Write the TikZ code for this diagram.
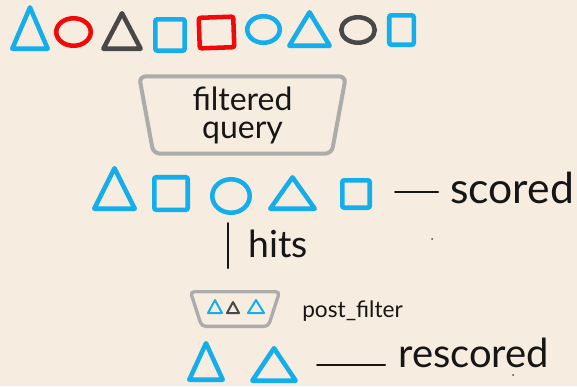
\documentclass[tikz,border=0pt]{standalone}
\usepackage{fontspec}
\setmainfont{Lato}
\usetikzlibrary{shapes.geometric}
\definecolor{FltPaper}{RGB}{246,236,223}
\definecolor{FltBlue}{RGB}{20,174,234}
\definecolor{FltRed}{RGB}{242,8,8}
\definecolor{FltDark}{RGB}{72,72,72}
\definecolor{FltGray}{RGB}{172,172,172}
\definecolor{FltInk}{RGB}{22,22,22}
\tikzset{
  flt/tri/.style={
    isosceles triangle,
    isosceles triangle stretches,
    shape border rotate=90,
    anchor=south,
    draw=#1,
    line width=3.4pt,
    line join=round,
    inner sep=0pt
  },
  flt/ring/.style={ellipse, draw=#1, line width=3.4pt, inner sep=0pt},
  flt/sq/.style={rectangle, draw=#1, line width=3.4pt, rounded corners=1.5pt, inner sep=0pt},
  flt/tiny/.style={flt/tri=#1, line width=1.5pt},
  flt/funnel/.style={
    trapezium,
    shape border rotate=180,
    trapezium stretches body,
    draw=FltGray,
    line width=3pt,
    rounded corners=5pt,
    inner sep=0pt
  },
  flt/hand/.style={font=\fontsize{29}{31}\selectfont, text=FltInk, inner sep=0pt, anchor=base west},
  flt/small/.style={font=\fontsize{17}{19}\selectfont, text=FltInk, inner sep=0pt, anchor=base west},
  flt/stroke/.style={draw=FltInk, line width=1.5pt, line cap=round}
}
\begin{document}
\begin{tikzpicture}[x=0.75pt,y=-0.75pt]
  \fill[FltPaper] (0,0) rectangle (577,386);
  \useasboundingbox (0,0) rectangle (577,386);
  % all documents
  \node[flt/tri=FltBlue,minimum width=26.6pt,minimum height=31pt] (a1) at (30,51) {};
  \node[flt/ring=FltRed,minimum width=25.9pt,minimum height=20.6pt] (a2) at (73.5,32) {};
  \node[flt/tri=FltDark,minimum width=28pt,minimum height=26.6pt] (a3) at (122,51) {};
  \node[flt/sq=FltBlue,minimum width=22pt,minimum height=23.6pt] (a4) at (170,35) {};
  \node[flt/sq=FltRed,minimum width=25.9pt,minimum height=22.9pt,rotate=2] (a5) at (216.5,32.5) {};
  \node[flt/ring=FltBlue,minimum width=24.4pt,minimum height=19.9pt] (a6) at (263.5,29.5) {};
  \node[flt/tri=FltBlue,minimum width=30.4pt,minimum height=25.1pt] (a7) at (309.5,48) {};
  \node[flt/ring=FltDark,minimum width=25.1pt,minimum height=19.1pt] (a8) at (358,30) {};
  \node[flt/sq=FltBlue,minimum width=18.4pt,minimum height=22.1pt] (a9) at (401.5,30) {};
  % query
  \node[flt/funnel,trapezium angle=76,minimum width=155pt,minimum height=58pt,
        font=\fontsize{24}{21}\selectfont,text=FltInk,align=center] (fq) at (242.5,115) {filtered\\query};
  % scored hits
  \node[flt/tri=FltBlue,minimum width=30.4pt,minimum height=30.4pt] (b1) at (114.5,211) {};
  \node[flt/sq=FltBlue,minimum width=25.1pt,minimum height=24.4pt] (b2) at (171,193.5) {};
  \node[flt/ring=FltBlue,minimum width=28.1pt,minimum height=25.1pt] (b3) at (231,196) {};
  \node[flt/tri=FltBlue,minimum width=33.4pt,minimum height=23.6pt] (b4) at (292.5,211) {};
  \node[flt/sq=FltBlue,minimum width=20.6pt,minimum height=20.6pt] (b5) at (356,194) {};
  \coordinate (sd1) at (395,192);
  \coordinate (sd2) at (438,192);
  \draw[flt/stroke] (sd1) -- (sd2);
  \node[flt/hand,font=\fontsize{32}{34}\selectfont] (scored) at (450,203) {scored};
  \coordinate (h1) at (228,223);
  \coordinate (h2) at (228,268);
  \draw[flt/stroke] (h1) -- (h2);
  \node[flt/hand,font=\fontsize{28}{30}\selectfont] (hits) at (248,257) {hits};
  % post filter
  \node[flt/funnel,line width=2.5pt,rounded corners=3pt,trapezium angle=72,inner xsep=25pt,inner ysep=13pt] (pf) at (235,309) {};
  \node[flt/tiny=FltBlue,minimum width=10.5pt,minimum height=9.7pt] (p1) at (215,314) {};
  \node[flt/tiny=FltDark,minimum width=9pt,minimum height=8.2pt] (p2) at (233,314) {};
  \node[flt/tiny=FltBlue,minimum width=12pt,minimum height=9.7pt] (p3) at (256,314) {};
  \node[flt/small] (pflabel) at (302,317) {post\_filter};
  % rescored
  \node[flt/tri=FltBlue,minimum width=25.1pt,minimum height=27.4pt] (c1) at (206,382) {};
  \node[flt/tri=FltBlue,minimum width=32.6pt,minimum height=24.4pt] (c2) at (274,383) {};
  \coordinate (rd1) at (317,365);
  \coordinate (rd2) at (385,365);
  \draw[flt/stroke] (rd1) -- (rd2);
  \node[flt/hand,font=\fontsize{30}{32}\selectfont] (rescored) at (398,367) {rescored};
  \fill[FltDark] (432,239) circle (1);
  \fill[FltDark] (513,375) circle (1);
\end{tikzpicture}
\end{document}
